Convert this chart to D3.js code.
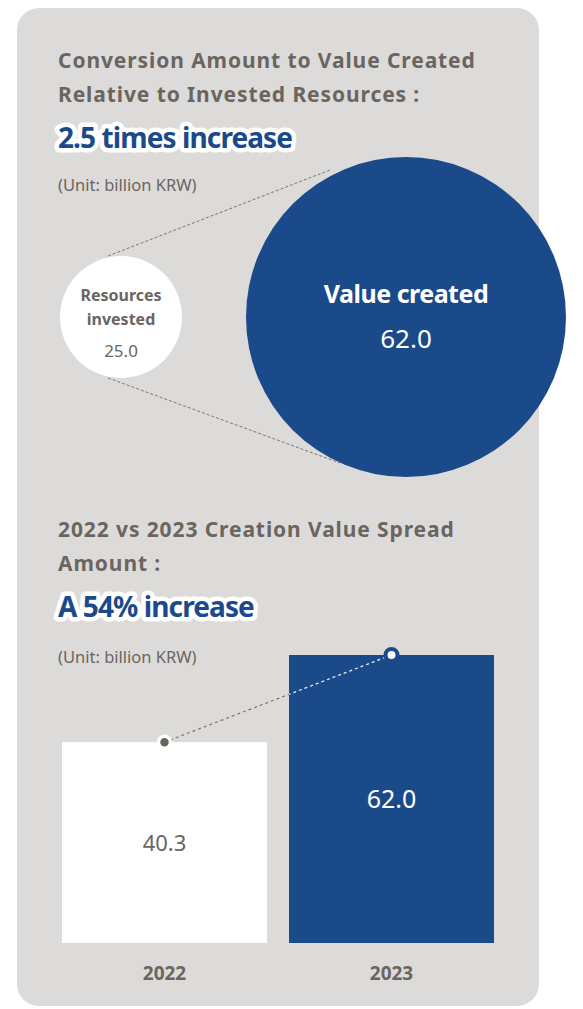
<!DOCTYPE html>
<html>
<head>
<meta charset="utf-8">
<script src="https://cdn.jsdelivr.net/npm/d3@7"></script>
<style>
    html, body { margin: 0; padding: 0; background: #ffffff; }
    svg { display: block; font-family: "Noto Sans", "Open Sans", sans-serif; }
</style>
</head>
<body>
<svg id="chart"></svg>
<script>
(function() {

    // Circle comparison data.
    const circleLabels = [['Resources', 'invested'], ['Value created']];
    const circleValues = [25.0, 62.0];

    // Bar comparison data.
    const barYears = ['2022', '2023'];
    const barValues = [40.3, 62.0];

    const titles1 = ['Conversion Amount to Value Created', 'Relative to Invested Resources :'];
    const highlight1 = '2.5 times increase';
    const titles2 = ['2022 vs 2023 Creation Value Spread', 'Amount :'];
    const highlight2 = 'A 54% increase';
    const unitText = '(Unit: billion KRW)';

    const w = 583;
    const h = 1009;

    const grey = '#dcdbda';
    const textGrey = '#6b655f';
    const blue = '#1b4a8b';

    const svg = d3.select('#chart')
        .attr('width', w)
        .attr('height', h);

    // Card background.
    svg.append('rect')
        .attr('x', 17)
        .attr('y', 8)
        .attr('width', 522)
        .attr('height', 998)
        .attr('rx', 22)
        .attr('fill', grey);

    const addTitle = (lines, y0) => {
        svg.append('g').selectAll('text')
            .data(lines)
            .join('text')
            .attr('x', 58)
            .attr('y', (d, i) => y0 + i * 34)
            .attr('font-size', 21)
            .attr('font-weight', 700)
            .attr('letter-spacing', 0.9)
            .attr('fill', textGrey)
            .text(d => d);
    };

    const addHighlight = (txt, y) => {
        svg.append('text')
            .attr('x', 58)
            .attr('y', y)
            .attr('font-size', 28)
            .attr('font-weight', 700)
            .attr('letter-spacing', -0.9)
            .attr('fill', blue)
            .attr('stroke', '#ffffff')
            .attr('stroke-width', 9)
            .attr('stroke-linejoin', 'round')
            .attr('paint-order', 'stroke')
            .text(txt);
    };

    const addUnit = y => {
        svg.append('text')
            .attr('x', 58)
            .attr('y', y)
            .attr('font-size', 16.5)
            .attr('fill', textGrey)
            .text(unitText);
    };

    // Section 1
    addTitle(titles1, 68);
    addHighlight(highlight1, 148);
    addUnit(191);

    const radius = d3.scaleLinear().domain([25, 62]).range([61, 160]);
    const cx = d3.scalePoint().domain([0, 1]).range([121, 406]);
    const cy = 317;

    const rSmall = radius(circleValues[0]);
    const rBig = radius(circleValues[1]);

    // Dashed tangent-like connectors.
    const connectors = [
        [[cx(0) - 13, cy - rSmall], [cx(1) - 76, cy - rBig + 13]],
        [[cx(0) - 13, cy + rSmall], [cx(1) - 66, cy + rBig - 14]]
    ];
    svg.append('g').selectAll('path')
        .data(connectors)
        .join('path')
        .attr('d', d => d3.line()(d))
        .attr('stroke', '#7a7672')
        .attr('stroke-width', 1)
        .attr('stroke-dasharray', '3,2')
        .attr('fill', 'none');

    svg.append('g').selectAll('circle')
        .data(circleValues)
        .join('circle')
        .attr('cx', (d, i) => cx(i))
        .attr('cy', cy)
        .attr('r', d => radius(d))
        .attr('fill', (d, i) => i === 0 ? '#ffffff' : blue);

    // Small circle labels.
    svg.append('g').selectAll('text')
        .data(circleLabels[0])
        .join('text')
        .attr('x', cx(0))
        .attr('y', (d, i) => 301 + i * 24)
        .attr('text-anchor', 'middle')
        .attr('font-size', 16)
        .attr('font-weight', 700)
        .attr('fill', textGrey)
        .text(d => d);
    svg.append('text')
        .attr('x', cx(0))
        .attr('y', 357)
        .attr('text-anchor', 'middle')
        .attr('font-size', 17)
        .attr('fill', textGrey)
        .text(circleValues[0].toFixed(1));

    // Big circle labels.
    svg.append('text')
        .attr('x', cx(1))
        .attr('y', 303)
        .attr('text-anchor', 'middle')
        .attr('font-size', 25)
        .attr('font-weight', 700)
        .attr('letter-spacing', -0.5)
        .attr('fill', '#ffffff')
        .text(circleLabels[1][0]);
    svg.append('text')
        .attr('x', cx(1))
        .attr('y', 348)
        .attr('text-anchor', 'middle')
        .attr('font-size', 26)
        .attr('fill', '#ffffff')
        .text(circleValues[1].toFixed(1));

    // Section 2
    addTitle(titles2, 537);
    addHighlight(highlight2, 617);
    addUnit(663);

    const x = d3.scaleBand()
        .domain(barYears)
        .range([62, 494])
        .paddingInner(0.097);

    const baseY = 943;
    const y = d3.scaleLinear().domain([0, 62]).range([904, 655]);

    const bars = barYears.map((yr, i) => ({year: yr, value: barValues[i]}));

    svg.append('g').selectAll('rect')
        .data(bars)
        .join('rect')
        .attr('x', d => x(d.year))
        .attr('y', d => y(d.value))
        .attr('width', x.bandwidth())
        .attr('height', d => baseY - y(d.value))
        .attr('fill', (d, i) => i === 0 ? '#ffffff' : blue);

    // Dashed link between bar tops.
    const linkPts = bars.map(d => [x(d.year) + x.bandwidth() / 2, y(d.value)]);
    svg.append('path')
        .attr('d', d3.line()(linkPts))
        .attr('stroke', '#7a7672')
        .attr('stroke-width', 1.2)
        .attr('stroke-dasharray', '3,3')
        .attr('fill', 'none');

    svg.append('clipPath')
        .attr('id', 'clip-blue')
        .append('rect')
        .attr('x', x(bars[1].year))
        .attr('y', y(bars[1].value))
        .attr('width', x.bandwidth())
        .attr('height', baseY - y(bars[1].value));

    svg.append('path')
        .attr('d', d3.line()(linkPts))
        .attr('clip-path', 'url(#clip-blue)')
        .attr('stroke', '#e8e8e8')
        .attr('stroke-width', 1.2)
        .attr('stroke-dasharray', '3,3')
        .attr('fill', 'none');

    // Markers on bar tops.
    svg.append('circle')
        .attr('cx', linkPts[0][0])
        .attr('cy', linkPts[0][1])
        .attr('r', 6)
        .attr('fill', textGrey)
        .attr('stroke', '#ffffff')
        .attr('stroke-width', 3.5);
    svg.append('circle')
        .attr('cx', linkPts[1][0])
        .attr('cy', linkPts[1][1])
        .attr('r', 6)
        .attr('fill', '#ffffff')
        .attr('stroke', blue)
        .attr('stroke-width', 4);

    // Value labels.
    svg.append('g').selectAll('text')
        .data(bars)
        .join('text')
        .attr('x', d => x(d.year) + x.bandwidth() / 2)
        .attr('y', (d, i) => i === 0 ? 851 : 808)
        .attr('text-anchor', 'middle')
        .attr('font-size', (d, i) => i === 0 ? 22 : 25)
        .attr('fill', (d, i) => i === 0 ? textGrey : '#ffffff')
        .text(d => d.value.toFixed(1));

    // Year axis.
    const xAxis = d3.axisBottom(x).tickSize(0).tickPadding(0);
    const axisG = svg.append('g')
        .attr('transform', `translate(0, 980)`)
        .call(xAxis);
    axisG.select('.domain').remove();
    axisG.selectAll('text')
        .attr('dy', 0)
        .attr('font-family', '"Noto Sans", sans-serif')
        .attr('font-size', 19)
        .attr('font-weight', 700)
        .attr('fill', textGrey);

})();
</script>
</body>
</html>
